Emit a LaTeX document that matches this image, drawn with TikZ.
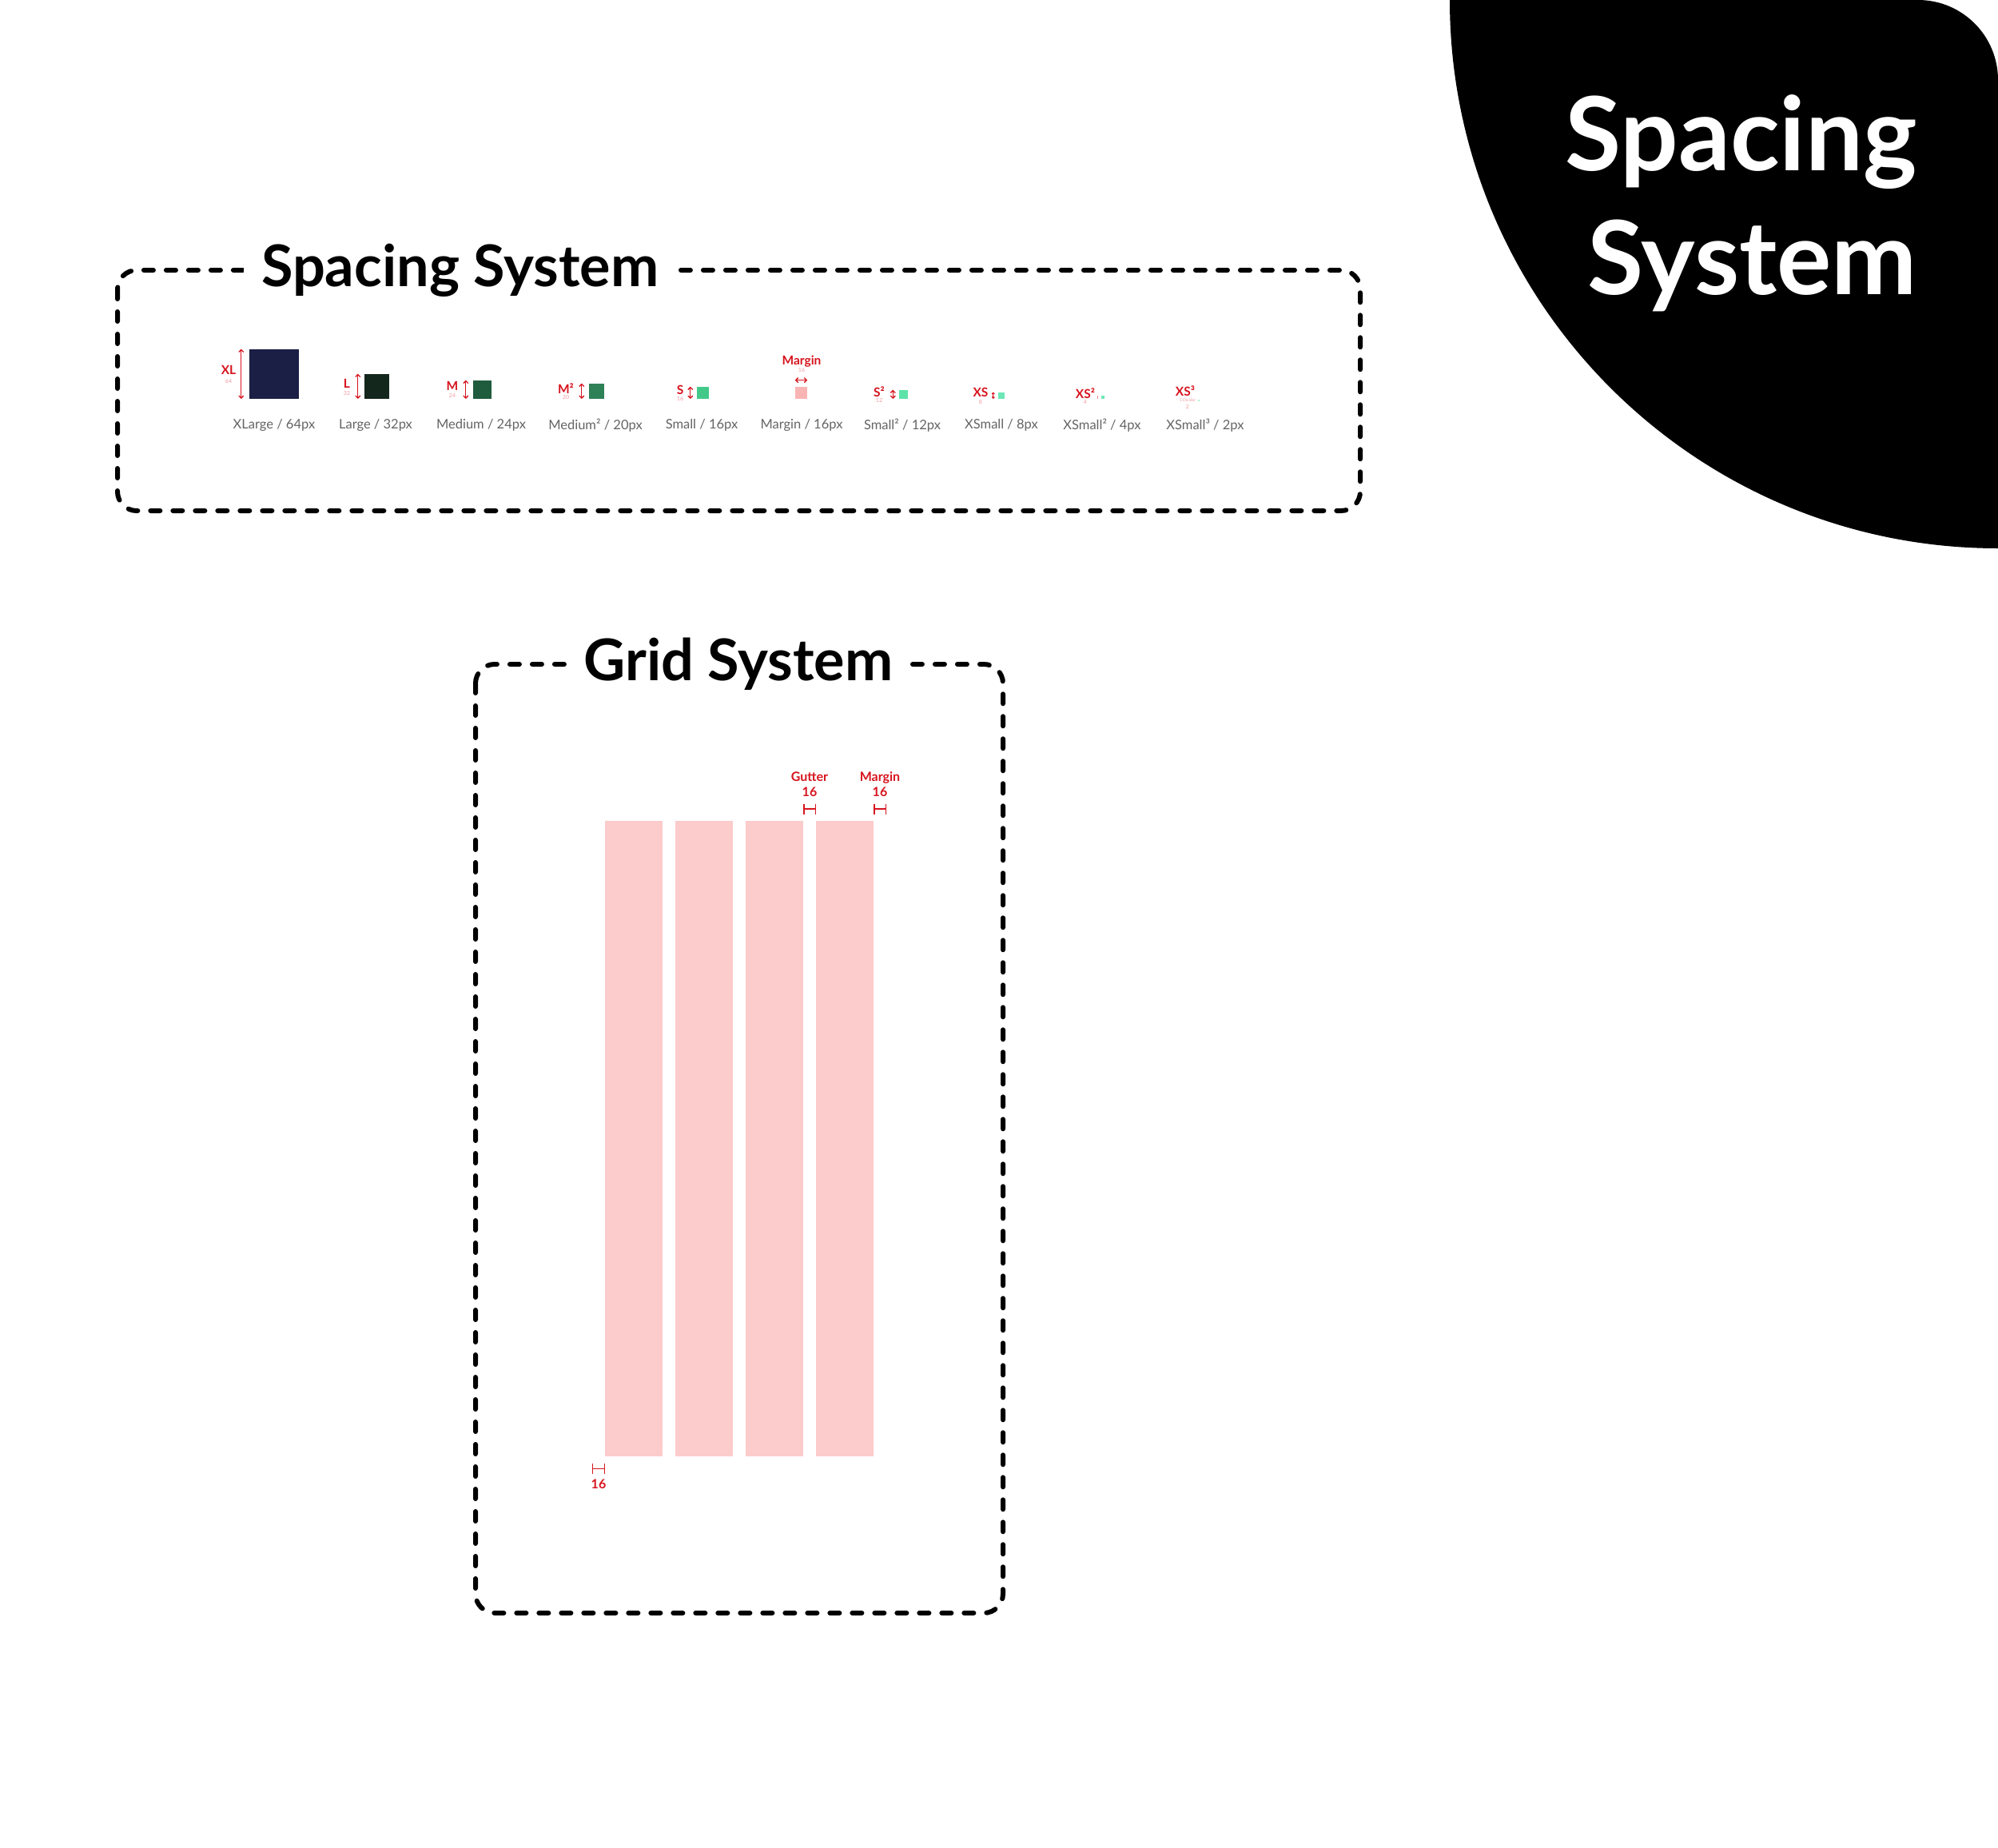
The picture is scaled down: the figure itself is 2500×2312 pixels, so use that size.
\documentclass[tikz,border=0pt]{standalone}
\usepackage{fontspec}
\setmainfont{Lato}
\usetikzlibrary{arrows.meta, positioning}

\definecolor{navy}{RGB}{27,31,69}
\definecolor{lgreen}{RGB}{20,39,29}
\definecolor{mgreen}{RGB}{31,91,61}
\definecolor{mmgreen}{RGB}{46,128,86}
\definecolor{sgreen}{RGB}{66,201,138}
\definecolor{ssgreen}{RGB}{93,227,169}
\definecolor{xsgreen}{RGB}{110,231,183}
\definecolor{marginpink}{RGB}{249,180,180}
\definecolor{gridpink}{RGB}{252,203,204}
\definecolor{redmark}{RGB}{215,20,30}
\definecolor{pinkmark}{RGB}{242,155,160}
\definecolor{capgray}{RGB}{100,100,100}

\begin{document}
\begin{tikzpicture}[
    x=1pt, y=-1pt,
    frame/.style={draw=black, line width=6pt, dash pattern=on 12pt off 16pt, line cap=round, rounded corners=24pt},
    boxtitle/.style={fill=white, font=\bfseries\fontsize{72}{72}\selectfont, inner xsep=22pt, inner ysep=4pt},
    sq/.style={inner sep=0pt, anchor=south},
    dim/.style={draw=redmark, line width=1.3pt, {Straight Barb[length=3pt,width=6pt]}-{Straight Barb[length=3pt,width=6pt]}},
    tag/.style={text=redmark, font=\bfseries\fontsize{15.5}{15.5}\selectfont, inner sep=0pt},
    num/.style={text=pinkmark, font=\fontsize{7}{7}\selectfont, inner sep=0pt},
    lbl/.style={text=capgray, font=\fontsize{16.5}{16.5}\selectfont, inner sep=0pt},
    col/.style={fill=gridpink, minimum width=72pt, minimum height=795pt, anchor=north west, inner sep=0pt},
    tick/.style={draw=redmark, line width=1.3pt, {Bar[width=13pt]}-{Bar[width=13pt]}},
    gridtag/.style={text=redmark, font=\bfseries\fontsize{16}{19}\selectfont, align=center, inner sep=0pt}
]
    \useasboundingbox (0,0) rectangle (2500,2312);
    \fill[white] (0,0) rectangle (2500,2312);

    % Corner badge
    \fill[black] (2500,686) arc[start angle=90, end angle=180, radius=686]
        -- (2400,0) arc[start angle=-90, end angle=0, radius=100] -- cycle;
    \node[text=white, font=\bfseries\fontsize{128}{155}\selectfont, align=right, anchor=north east, inner sep=0pt] (badge) at (2399,118) {Spacing\\System};

    % Spacing system frame
    \draw[frame] (147,338) rectangle (1702,639);
    \node[boxtitle, anchor=west] (sptitle) at (305,338) {Spacing System};

    % Squares
    \node[sq, fill=navy, minimum size=62pt] (xl) at (343,499) {};
    \node[sq, fill=lgreen, minimum size=31pt] (l) at (471.5,499) {};
    \node[sq, fill=mgreen, minimum size=23pt] (m) at (603.5,499) {};
    \node[sq, fill=mmgreen, minimum size=19pt] (mm) at (746.5,499) {};
    \node[sq, fill=sgreen, minimum size=15pt] (s) at (879.5,499) {};
    \node[sq, fill=marginpink, minimum size=15pt] (mg) at (1002.5,499) {};
    \node[sq, fill=ssgreen, minimum size=11pt] (ss) at (1130,499) {};
    \node[sq, fill=xsgreen, minimum size=8pt] (xs) at (1253,499) {};
    \node[sq, fill=xsgreen, minimum size=4pt] (xss) at (1380,499) {};
    \node[sq, fill=xsgreen!60, minimum size=2pt] (xsss) at (1500,502) {};

    % Size arrows
    \draw[dim] ([xshift=-10pt]xl.north west) -- ([xshift=-10pt]xl.south west);
    \draw[dim] ([xshift=-8pt]l.north west) -- ([xshift=-8pt]l.south west);
    \draw[dim] ([xshift=-9pt]m.north west) -- ([xshift=-9pt]m.south west);
    \draw[dim] ([xshift=-9pt]mm.north west) -- ([xshift=-9pt]mm.south west);
    \draw[dim] ([xshift=-8pt]s.north west) -- ([xshift=-8pt]s.south west);
    \draw[dim] ([yshift=8pt]mg.north west) -- ([yshift=8pt]mg.north east);
    \draw[dim] ([xshift=-7pt]ss.north west) -- ([xshift=-7pt]ss.south west);
    \draw[dim, {Straight Barb[length=1.5pt,width=3pt]}-{Straight Barb[length=1.5pt,width=3pt]}] ([xshift=-6pt]xs.north west) -- ([xshift=-6pt]xs.south west);
    \draw[redmark!50, line width=1pt] ([xshift=-4pt]xss.north west) -- ([xshift=-4pt]xss.south west);

    % Tags
    \node[tag] (xlt) at (286,463) {XL};
    \node[num] (xln) at (286,477) {64};
    \node[tag] (lt) at (434,480) {L};
    \node[num] (ln) at (434,492) {32};
    \node[tag] (mt) at (566,483) {M};
    \node[num] (mn) at (566,495) {24};
    \node[tag] (mmt) at (708,486) {M²};
    \node[num] (mmn) at (708,497) {20};
    \node[tag] (st) at (851,488) {S};
    \node[num] (sn) at (851,499) {16};
    \node[tag] (mgt) at (1003,452) {Margin};
    \node[num] (mgn) at (1003,463) {16};
    \node[tag] (sst) at (1100,490) {S²};
    \node[num] (ssn) at (1100,501) {12};
    \node[tag] (xst) at (1227,491) {XS};
    \node[num] (xsn) at (1227,503) {8};
    \node[tag] (xsst) at (1358,492) {XS²};
    \node[num] (xssn) at (1358,503) {4};
    \node[tag] (xssst) at (1483,489) {XS³};
    \node[num, font=\fontsize{5}{5}\selectfont] (xsssd) at (1486,501) {S Divider};
    \node[num] (xsssn) at (1486,509) {2};

    % Captions
    \node[lbl] (xlc) at (343,532) {XLarge / 64px};
    \node[lbl] (lc) at (470,532) {Large / 32px};
    \node[lbl] (mc) at (602,532) {Medium / 24px};
    \node[lbl] (mmc) at (745,532) {Medium² / 20px};
    \node[lbl] (sc) at (878,532) {Small / 16px};
    \node[lbl] (mgc) at (1003,532) {Margin / 16px};
    \node[lbl] (ssc) at (1129,532) {Small² / 12px};
    \node[lbl] (xsc) at (1253,532) {XSmall / 8px};
    \node[lbl] (xssc) at (1379,532) {XSmall² / 4px};
    \node[lbl] (xsssc) at (1508,532) {XSmall³ / 2px};

    % Grid system frame
    \draw[frame] (595,831) rectangle (1255,2018);
    \node[boxtitle, inner xsep=16pt] (grtitle) at (924,831) {Grid System};

    % Columns
    \node[col] (c1) at (757,1027) {};
    \node[col] (c2) at (845,1027) {};
    \node[col] (c3) at (933,1027) {};
    \node[col] (c4) at (1021,1027) {};

    % Gutter and margin marks
    \draw[tick] ([yshift=15pt]c3.north east) -- ([yshift=15pt]c4.north west);
    \draw[tick] ([yshift=15pt]c4.north east) -- ++(16,0);
    \draw[tick] ([yshift=-15pt]c1.south west) -- ++(-16,0);
    \node[gridtag] (gut) at (1013,981) {Gutter\\16};
    \node[gridtag] (mar) at (1101,981) {Margin\\16};
    \node[gridtag] (bot) at (749,1857) {16};
\end{tikzpicture}
\end{document}
